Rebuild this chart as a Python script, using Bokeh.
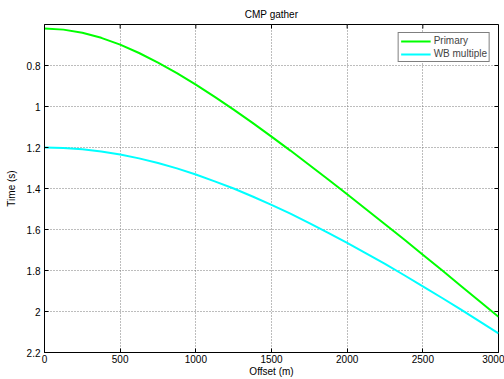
import math
from bokeh.plotting import figure
from bokeh.models import Range1d, FixedTicker, CustomJSTickFormatter, Legend, LegendItem
from bokeh.embed import file_html
from bokeh.resources import INLINE

# Data
offset_m = [0, 125, 250, 375, 500, 625, 750, 875, 1000, 1125, 1250, 1375, 1500,
            1625, 1750, 1875, 2000, 2125, 2250, 2375, 2500, 2625, 2750, 2875, 3000]
primary_t = [0.620, 0.625, 0.640, 0.665, 0.698, 0.739, 0.786, 0.837, 0.893, 0.953,
             1.015, 1.080, 1.147, 1.215, 1.285, 1.356, 1.428, 1.501, 1.574, 1.648,
             1.723, 1.798, 1.874, 1.950, 2.026]
wb_multiple_t = [1.200, 1.202, 1.209, 1.219, 1.234, 1.253, 1.276, 1.302, 1.332, 1.365,
                 1.400, 1.439, 1.480, 1.523, 1.569, 1.616, 1.665, 1.716, 1.768, 1.822,
                 1.877, 1.933, 1.990, 2.048, 2.107]

x_ticks = [0, 500, 1000, 1500, 2000, 2500, 3000]
y_ticks = [0.8, 1.0, 1.2, 1.4, 1.6, 1.8, 2.0, 2.2]
x_lim = (0, 3000)
y_lim = (2.2, 0.6)   # reversed: time grows downward

FONT = "Liberation Sans"

p = figure(width=504, height=379, output_backend="svg", toolbar_location=None,
           x_range=Range1d(*x_lim), y_range=Range1d(*y_lim),
           min_border_left=44, min_border_right=6, min_border_top=24, min_border_bottom=26,
           title="CMP gather")
p.background_fill_color = "white"
p.border_fill_color = "white"
p.outline_line_color = "black"
p.outline_line_width = 1

p.title.align = "center"
p.title.text_font = FONT
p.title.text_font_size = "10px"
p.title.text_font_style = "normal"
p.title.text_color = "black"

fmt = CustomJSTickFormatter(code="return String(Math.round(tick*10)/10);")

for ax in (p.xaxis[0], p.yaxis[0]):
    ax.major_tick_in = 4
    ax.major_tick_out = 0
    ax.minor_tick_in = 0
    ax.minor_tick_out = 0
    ax.axis_line_color = "black"
    ax.major_tick_line_color = "black"
    ax.major_label_text_font = FONT
    ax.major_label_text_font_size = "10px"
    ax.major_label_text_color = "black"
    ax.axis_label_text_font = FONT
    ax.axis_label_text_font_size = "10px"
    ax.axis_label_text_font_style = "normal"
    ax.axis_label_text_color = "black"

p.xaxis[0].ticker = FixedTicker(ticks=x_ticks)
p.yaxis[0].ticker = FixedTicker(ticks=y_ticks)
p.yaxis[0].formatter = fmt
p.xaxis[0].axis_label = "Offset (m)"
p.yaxis[0].axis_label = "Time (s)"
p.xaxis[0].major_label_standoff = 2
p.xaxis[0].axis_label_standoff = 0
p.yaxis[0].major_label_standoff = 4
p.yaxis[0].axis_label_standoff = 7

p.xgrid.ticker = FixedTicker(ticks=x_ticks[1:-1])
p.ygrid.ticker = FixedTicker(ticks=y_ticks[:-1])
for g in (p.xgrid[0], p.ygrid[0]):
    g.grid_line_color = "#7a7a7a"
    g.grid_line_dash = "1 2"
    g.grid_line_width = 1

r1 = p.line(offset_m, primary_t, line_color="#00ff00", line_width=2)
r2 = p.line(offset_m, wb_multiple_t, line_color="#00ffff", line_width=2)

# mirrored inward ticks on the top and right edges of the box (clipped to the frame)
p.scatter(x_ticks, [y_lim[1]] * len(x_ticks), marker="dash", size=8, angle=math.pi / 2,
          line_color="black", line_width=1)
p.scatter([x_lim[1]] * len(y_ticks), y_ticks, marker="dash", size=8,
          line_color="black", line_width=1)

legend = Legend(items=[LegendItem(label="Primary", renderers=[r1]),
                       LegendItem(label="WB multiple", renderers=[r2])],
                location="top_right")
legend.label_text_font = FONT
legend.label_text_font_size = "10px"
legend.label_height = 10
legend.label_standoff = 3
legend.glyph_height = 10
legend.glyph_width = 30
legend.spacing = 2
legend.padding = 2
legend.margin = 8
legend.border_line_color = "black"
legend.border_line_width = 1
legend.background_fill_alpha = 1
p.add_layout(legend)

open("out.html", "w").write(file_html(p, INLINE))
